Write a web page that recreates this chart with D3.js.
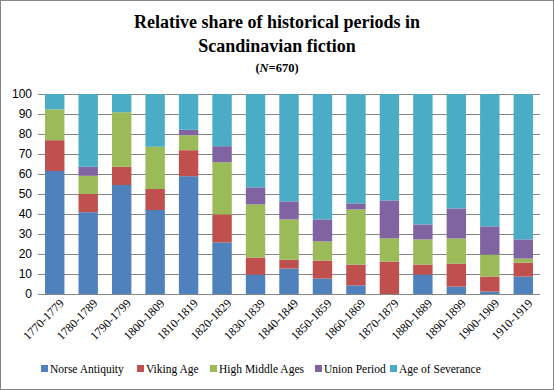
<!DOCTYPE html>
<html>
<head>
<meta charset="utf-8">
<script src="https://cdn.jsdelivr.net/npm/d3@7"></script>
<style>
  body { margin: 0; background: #fff; }
  svg { display: block; font-family: "Liberation Serif", "DejaVu Serif", serif; }
</style>
</head>
<body>
<div id="chart"></div>
<script>
// decades on the x axis
const decades = ["1770-1779", "1780-1789", "1790-1799", "1800-1809", "1810-1819",
  "1820-1829", "1830-1839", "1840-1849", "1850-1859", "1860-1869",
  "1870-1879", "1880-1889", "1890-1899", "1900-1909", "1910-1919"];

// share per period (%)
const norseAntiquity = [61.5, 40.9, 54.5, 42.0, 58.9, 25.8, 9.7, 12.7, 7.7, 4.3, 0, 9.7, 3.7, 1.2, 8.7];
const vikingAge      = [15.4, 9.1, 9.1, 10.5, 13.0, 14.0, 8.5, 4.5, 9.0, 10.4, 16.2, 5.0, 11.5, 7.5, 7.0];
const highMiddleAges = [15.4, 9.1, 27.3, 21.1, 7.5, 26.1, 26.6, 20.1, 9.6, 27.6, 11.6, 12.6, 12.6, 11.0, 2.0];
const unionPeriod    = [0, 4.5, 0, 0, 2.7, 8.0, 8.5, 9.0, 11.0, 3.0, 19.0, 7.5, 15.0, 14.1, 9.6];
const ageOfSeverance = decades.map((d, i) =>
  100 - norseAntiquity[i] - vikingAge[i] - highMiddleAges[i] - unionPeriod[i]);

const seriesNames = ["Norse Antiquity", "Viking Age", "High Middle Ages", "Union Period", "Age of Severance"];
const seriesValues = [norseAntiquity, vikingAge, highMiddleAges, unionPeriod, ageOfSeverance];
const colors = ["#4F81BD", "#C0504D", "#9BBB59", "#8064A2", "#4BACC6"];
const yTicks = [0, 10, 20, 30, 40, 50, 60, 70, 80, 90, 100];

const W = 554, H = 390;
const margin = {top: 94, right: 14, bottom: 96, left: 38};
const width = W - margin.left - margin.right,
      height = H - margin.top - margin.bottom;

const svg = d3.select("#chart").append("svg")
    .attr("width", W)
    .attr("height", H);

// outer frame
svg.append("rect")
    .attr("x", 0.5).attr("y", 0.5)
    .attr("width", W - 1).attr("height", H - 1)
    .attr("fill", "#fff")
    .attr("stroke", "#868686");

// title
const title = svg.append("text")
    .attr("text-anchor", "middle")
    .attr("font-weight", "bold")
    .attr("fill", "#000");
title.append("tspan").attr("x", W / 2).attr("y", 28).attr("font-size", 18)
    .text("Relative share of historical periods in");
title.append("tspan").attr("x", W / 2).attr("y", 52).attr("font-size", 18)
    .text("Scandinavian fiction");
const sub = svg.append("text")
    .attr("x", W / 2).attr("y", 72)
    .attr("text-anchor", "middle")
    .attr("font-weight", "bold")
    .attr("font-size", 12.5);
sub.append("tspan").text("(");
sub.append("tspan").attr("font-style", "italic").text("N");
sub.append("tspan").text("=670)");

const g = svg.append("g")
    .attr("transform", `translate(${margin.left},${margin.top})`);

let x = d3.scaleBand()
    .domain(decades)
    .range([0, width])
    .paddingInner(0.42)
    .paddingOuter(0.21);

let y = d3.scaleLinear()
    .domain([0, 100])
    .range([height, 0]);

// gridlines
g.append("g")
    .selectAll("line")
    .data(yTicks)
    .enter().append("line")
    .attr("x1", 0).attr("x2", width)
    .attr("y1", d => Math.round(y(d)) + 0.5)
    .attr("y2", d => Math.round(y(d)) + 0.5)
    .attr("stroke", "#868686");

// stacked bars
const rows = decades.map((d, i) => {
  const r = {decade: d};
  seriesNames.forEach((s, k) => r[s] = seriesValues[k][i]);
  return r;
});
const stacked = d3.stack().keys(seriesNames)(rows);

g.selectAll(".layer")
    .data(stacked)
    .enter().append("g")
    .attr("class", "layer")
    .attr("fill", (d, i) => colors[i])
    .selectAll("rect")
    .data(d => d)
    .enter().append("rect")
    .attr("x", d => x(d.data.decade))
    .attr("width", x.bandwidth())
    .attr("y", d => y(d[1]))
    .attr("height", d => y(d[0]) - y(d[1]));

// y axis labels
const yAxis = d3.axisLeft(y).tickValues(yTicks).tickSize(0).tickPadding(6);
g.append("g")
    .attr("class", "y axis")
    .call(yAxis)
    .call(a => a.select(".domain").remove())
    .selectAll("text")
    .style("font-family", "'Liberation Sans', Arial, sans-serif")
    .style("font-size", "12px")
    .attr("fill", "#000");

// x axis
g.append("line")
    .attr("x1", 0).attr("x2", width)
    .attr("y1", height + 0.5).attr("y2", height + 0.5)
    .attr("stroke", "#868686");

const xAxis = d3.axisBottom(x).tickSize(0);
g.append("g")
    .attr("class", "x axis")
    .attr("transform", `translate(0,${height})`)
    .call(xAxis)
    .call(a => a.select(".domain").remove())
    .selectAll("text")
    .style("font-family", "'Liberation Serif', serif")
    .style("font-size", "12px")
    .attr("fill", "#000")
    .attr("text-anchor", "end")
    .attr("dy", "0.35em")
    .attr("transform", "translate(5,5) rotate(-45)");

// legend
const legendX = [41, 137, 210, 315, 390];
const legend = svg.append("g").attr("transform", "translate(0,369)");
seriesNames.forEach((s, i) => {
  legend.append("rect")
      .attr("x", legendX[i]).attr("y", -4)
      .attr("width", 7).attr("height", 7)
      .attr("fill", colors[i]);
  legend.append("text")
      .attr("x", legendX[i] + 9).attr("y", 0)
      .attr("dy", "0.35em")
      .style("font-family", "'Liberation Serif', serif")
      .style("font-size", "11.5px")
      .text(s);
});
</script>
</body>
</html>
